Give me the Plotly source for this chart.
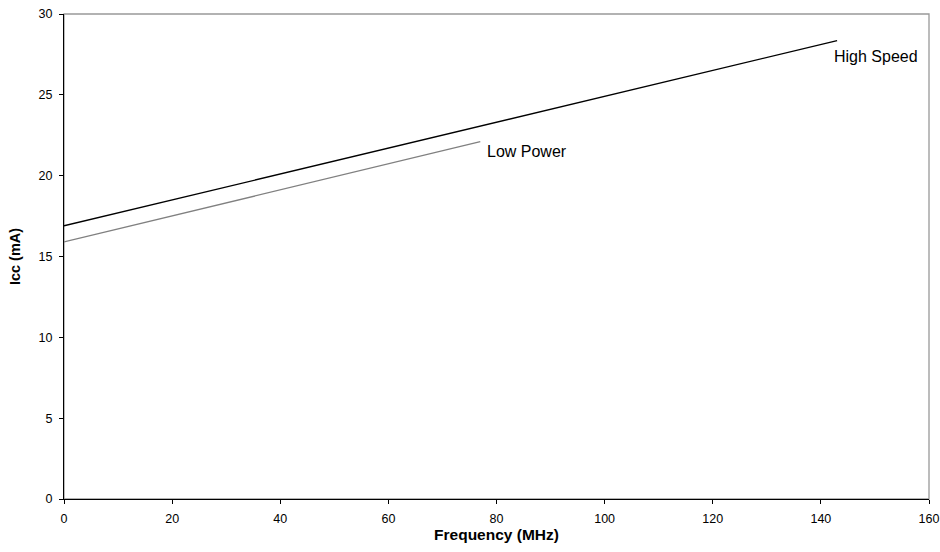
import plotly.graph_objects as go

freq_high = [0, 143]
icc_high = [16.9, 28.35]
freq_low = [0, 77]
icc_low = [15.9, 22.1]

x_ticks = [0, 20, 40, 60, 80, 100, 120, 140, 160]
y_ticks = [0, 5, 10, 15, 20, 25, 30]

FONT = "Liberation Sans, Arial, sans-serif"

fig = go.Figure()
fig.add_trace(go.Scatter(x=freq_low, y=icc_low, mode="lines",
                         line=dict(color="#808080", width=1.3), showlegend=False))
fig.add_trace(go.Scatter(x=freq_high, y=icc_high, mode="lines",
                         line=dict(color="#000000", width=1.3), showlegend=False))

fig.add_annotation(x=freq_high[-1] - 1.0, y=icc_high[-1] - 0.95, text="High Speed",
                   showarrow=False, xanchor="left", yanchor="middle",
                   font=dict(family=FONT, size=16, color="#000"))
fig.add_annotation(x=freq_low[-1] + 0.9, y=icc_low[-1] - 0.6, text="Low Power",
                   showarrow=False, xanchor="left", yanchor="middle",
                   font=dict(family=FONT, size=16, color="#000"))

fig.add_shape(type="rect", xref="paper", yref="paper", x0=0, y0=0, x1=1, y1=1,
              line=dict(color="#999999", width=1.3), layer="below")

fig.update_layout(
    width=940, height=552,
    margin=dict(l=64, r=11, t=14, b=53),
    paper_bgcolor="white", plot_bgcolor="white",
    font=dict(family=FONT, size=12.5, color="#000"),
    xaxis=dict(range=[0, 160], tickvals=x_ticks, showgrid=False, zeroline=False,
               showline=True, linecolor="black", linewidth=1.3, automargin=False,
               ticks="outside", ticklen=4, tickcolor="black", ticklabelstandoff=4,
               title=dict(text="<b>Frequency (MHz)</b>", font=dict(size=15.5), standoff=0)),
    yaxis=dict(range=[0, 30], tickvals=y_ticks, showgrid=False, zeroline=False,
               showline=True, linecolor="black", linewidth=1.3, automargin=False,
               ticks="outside", ticklen=4, tickcolor="black", ticklabelstandoff=4,
               title=dict(text="<b>Icc (mA)</b>", font=dict(size=14.5), standoff=14)),
)

fig.write_html("out.html", config={"displayModeBar": False},
               post_script="document.body.style.margin='0';document.body.style.padding='0';")
